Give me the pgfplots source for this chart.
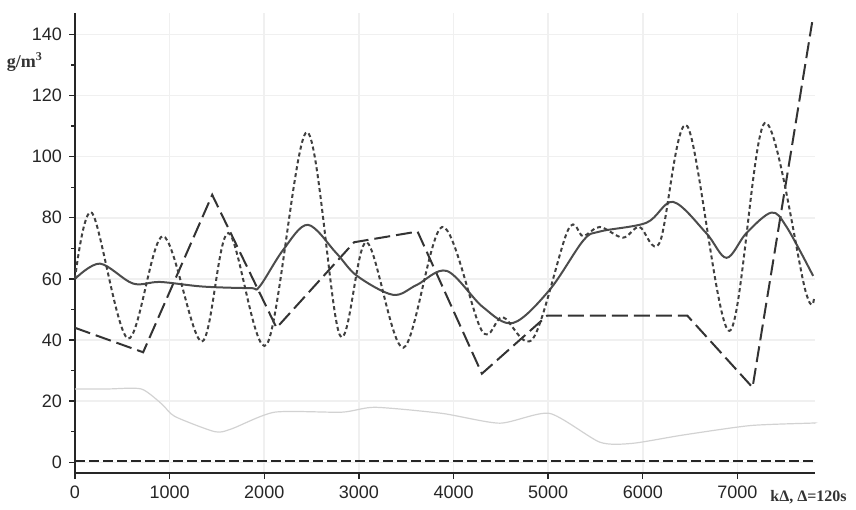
\documentclass[border=0pt]{standalone}
\usepackage{fontspec}
\setmainfont{Liberation Sans}
\newfontfamily\seriffont{Liberation Serif}
\usepackage{pgfplots}
\pgfplotsset{compat=1.18}
\begin{document}
\begin{tikzpicture}
\begin{axis}[
  scale only axis, width=370pt, height=230pt,
  xmin=0, xmax=7820, ymin=-3.5, ymax=147,
  axis x line=bottom, axis y line=left,
  axis line style={-, line width=0.9pt, black!85},
  xtick={0,1000,...,7000}, ytick={0,20,...,140},
  minor y tick num=1,
  tick align=outside, major tick length=3pt, minor tick length=2pt,
  tick style={black!85, line width=0.7pt},
  grid=major, major grid style={gray!12, line width=0.8pt},
  scaled x ticks=false,
  /pgf/number format/1000 sep={},
  /pgf/number format/assume math mode=true,
  tick label style={font=\fontsize{9}{10}\selectfont, black!85},
  clip=false,
]
% faint gray series
\addplot[gray!35, line width=0.6pt, smooth, tension=0.4] coordinates {
(0,24)(350,24)(700,24)(920,19)(1055,15)(1480,10)(1660,11)(2110,16.4)(2820,16.4)(3170,18)(3880,16)(4490,12.8)(5015,16)(5545,6.6)(5890,6.2)(6420,8.9)(7130,12)(7760,12.8)(7810,12.8)};
% zero dashed line
\addplot[black!85, line width=0.9pt, dash pattern=on 5pt off 2pt] coordinates {(0,0.3)(7810,0.3)};
% long dashed
\addplot[black!80, line width=1pt, dash pattern=on 8pt off 3pt] coordinates {
(0,44)(720,36)(1450,87.5)(2130,44)(2950,72)(3620,75.5)(4300,29)(4990,48)(6470,48)(7160,24.5)(7790,144)};
% solid
\addplot[black!70, line width=1pt, smooth, tension=0.55] coordinates {
(0,60)(264,65)(612,58.5)(900,59)(1350,57.5)(1850,57)(1950,57.5)(2200,69.5)(2460,77.7)(2760,68.5)(2980,61)(3360,54.8)(3610,58)(3930,62.6)(4310,50.8)(4630,45.6)(5015,56.4)(5370,72.5)(5545,75.5)(6040,78.4)(6320,85.2)(6670,75)(6885,66.9)(7095,75)(7360,81.7)(7520,77)(7800,61)};
% dotted oscillating
\addplot[black!75, line width=1pt, dash pattern=on 2pt off 1.5pt, smooth, tension=0.55] coordinates {
(0,60)(180,81.6)(560,40.5)(930,74)(1340,39.5)(1620,75)(2025,38.5)(2450,108)(2800,41.5)(3080,72)(3470,37.5)(3880,77)(4300,43)(4520,47.5)(4840,40.5)(5210,76)(5370,74)(5545,77)(5790,73.5)(5965,77)(6180,72)(6470,110)(6915,43)(7290,111)(7720,56)(7810,54)};
\node[font=\seriffont\bfseries\fontsize{9}{10}\selectfont, black!80, anchor=east] at ([xshift=-12.5pt]axis cs:0,131) {g/m\textsuperscript{3}};
\end{axis}
\node[font=\seriffont\bfseries\fontsize{8}{9}\selectfont, black!80, anchor=west, inner sep=0pt] at ([shift={(-22.5pt,-12pt)}]current axis.south east) {kΔ, Δ=120s};
\pgfresetboundingbox
\path ([shift={(-37.5pt,-18pt)}]current axis.south west) rectangle ([shift={(20.5pt,6.5pt)}]current axis.north east);
\end{tikzpicture}
\end{document}
